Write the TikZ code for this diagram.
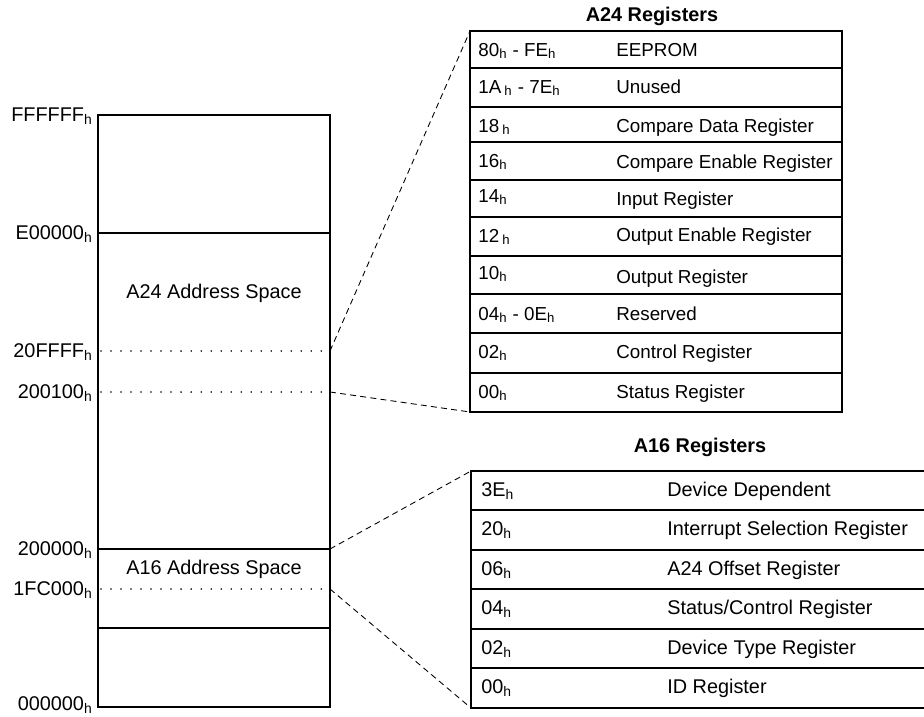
\documentclass[tikz,border=0pt]{standalone}
\usepackage{fontspec}
\setmainfont{Liberation Sans}
\usepackage{tikz}
\tikzset{>=latex}
\newcommand{\hsub}{\textsubscript{h}}

\begin{document}
\begin{tikzpicture}[x = 0.02cm, y = -0.02cm, font = \fontsize{11.3}{13}\selectfont,
  solidline/.style = {line width = 0.9pt},
  dotline/.style = {line width = 1pt, line cap = round, dash pattern = on 0pt off 5.7pt},
  zoomline/.style = {line width = 0.5pt, dash pattern = on 3.4pt off 2.4pt},
  lbl/.style = {anchor = base east, inner sep = 0pt},
  cell/.style = {anchor = base west, inner sep = 0pt},
  smallcell/.style = {cell, font = \fontsize{10.7}{12}\selectfont},
  ttl/.style = {anchor = base, inner sep = 0pt, font = \fontsize{11.3}{13}\selectfont\bfseries}]
\useasboundingbox (0,0) rectangle (924,717);

\draw[solidline] (98,115) rectangle (330,707);
\draw[solidline] (98,233) -- (330,233);
\draw[solidline] (98,549) -- (330,549);
\draw[solidline] (98,628) -- (330,628);
\draw[dotline] (101,351) -- (330,351);
\draw[dotline] (101,392) -- (330,392);
\draw[dotline] (101,589) -- (330,589);
\node[anchor = base] (a24space) at (214,298) {A24 Address Space};
\node[anchor = base] (a16space) at (214,574) {A16 Address Space};
\node[lbl] (lffffff) at (93,121) {FFFFFF\hsub};
\node[lbl] (le00000) at (93,239) {E00000\hsub};
\node[lbl] (l20ffff) at (93,357) {20FFFF\hsub};
\node[lbl] (l200100) at (93,398) {200100\hsub};
\node[lbl] (l200000) at (93,555) {200000\hsub};
\node[lbl] (l1fc000) at (93,595) {1FC000\hsub};
\node[lbl] (l000000) at (93,710) {000000\hsub};

\coordinate (p20ffff) at (330,351);
\coordinate (p200100) at (330,392);
\coordinate (p200000) at (330,549);
\coordinate (p1fc000) at (330,589);
\coordinate (a24nw) at (470,31);
\coordinate (a24sw) at (470,412);
\coordinate (a16nw) at (471,471);
\coordinate (a16sw) at (471,708);
\draw[zoomline] (p20ffff) -- (a24nw);
\draw[zoomline] (p200100) -- (a24sw);
\draw[zoomline] (p200000) -- (a16nw);
\draw[zoomline] (p1fc000) -- (a16sw);

\node[ttl] (a24title) at (652,21) {A24 Registers};
\draw[solidline] (a24nw) rectangle (842,412);
\foreach \yy in {68,107,142,180,217,256,294,333,373}
  \draw[solidline] (470,\yy) -- (842,\yy);
\node[smallcell] (a24adr1) at (478,56) {80\hsub{} - FE\hsub};
\node[smallcell] (a24reg1) at (616,56) {EEPROM};
\node[smallcell] (a24adr2) at (478,93) {1A\,\hsub{} - 7E\hsub};
\node[smallcell] (a24reg2) at (616,93) {Unused};
\node[smallcell] (a24adr3) at (478,132) {18\,\hsub};
\node[smallcell] (a24reg3) at (616,132) {Compare Data Register};
\node[smallcell] (a24adr4) at (478,167) {16\hsub};
\node[smallcell] (a24reg4) at (616,168) {Compare Enable Register};
\node[smallcell] (a24adr5) at (478,202) {14\hsub};
\node[smallcell] (a24reg5) at (616,205) {Input Register};
\node[smallcell] (a24adr6) at (478,242) {12\,\hsub};
\node[smallcell] (a24reg6) at (616,241) {Output Enable Register};
\node[smallcell] (a24adr7) at (478,279) {10\hsub};
\node[smallcell] (a24reg7) at (616,283) {Output Register};
\node[smallcell] (a24adr8) at (478,320) {04\hsub{} - 0E\hsub};
\node[smallcell] (a24reg8) at (616,320) {Reserved};
\node[smallcell] (a24adr9) at (478,358) {02\hsub};
\node[smallcell] (a24reg9) at (616,358) {Control Register};
\node[smallcell] (a24adr10) at (478,398) {00\hsub};
\node[smallcell] (a24reg10) at (616,398) {Status Register};

\node[ttl] (a16title) at (700,452) {A16 Registers};
\draw[solidline] (a16nw) -- (926,471) -- (926,708) -- (a16sw) -- cycle;
\foreach \yy in {510,550,589,629,668}
  \draw[solidline] (471,\yy) -- (926,\yy);
\node[cell] (a16adr1) at (481,496) {3E\hsub};
\node[cell] (a16reg1) at (667,496) {Device Dependent};
\node[cell] (a16adr2) at (481,535) {20\hsub};
\node[cell] (a16reg2) at (667,535) {Interrupt Selection Register};
\node[cell] (a16adr3) at (481,575) {06\hsub};
\node[cell] (a16reg3) at (667,575) {A24 Offset Register};
\node[cell] (a16adr4) at (481,614) {04\hsub};
\node[cell] (a16reg4) at (667,614) {Status/Control Register};
\node[cell] (a16adr5) at (481,654) {02\hsub};
\node[cell] (a16reg5) at (667,654) {Device Type Register};
\node[cell] (a16adr6) at (481,693) {00\hsub};
\node[cell] (a16reg6) at (667,693) {ID Register};
\end{tikzpicture}
\end{document}
